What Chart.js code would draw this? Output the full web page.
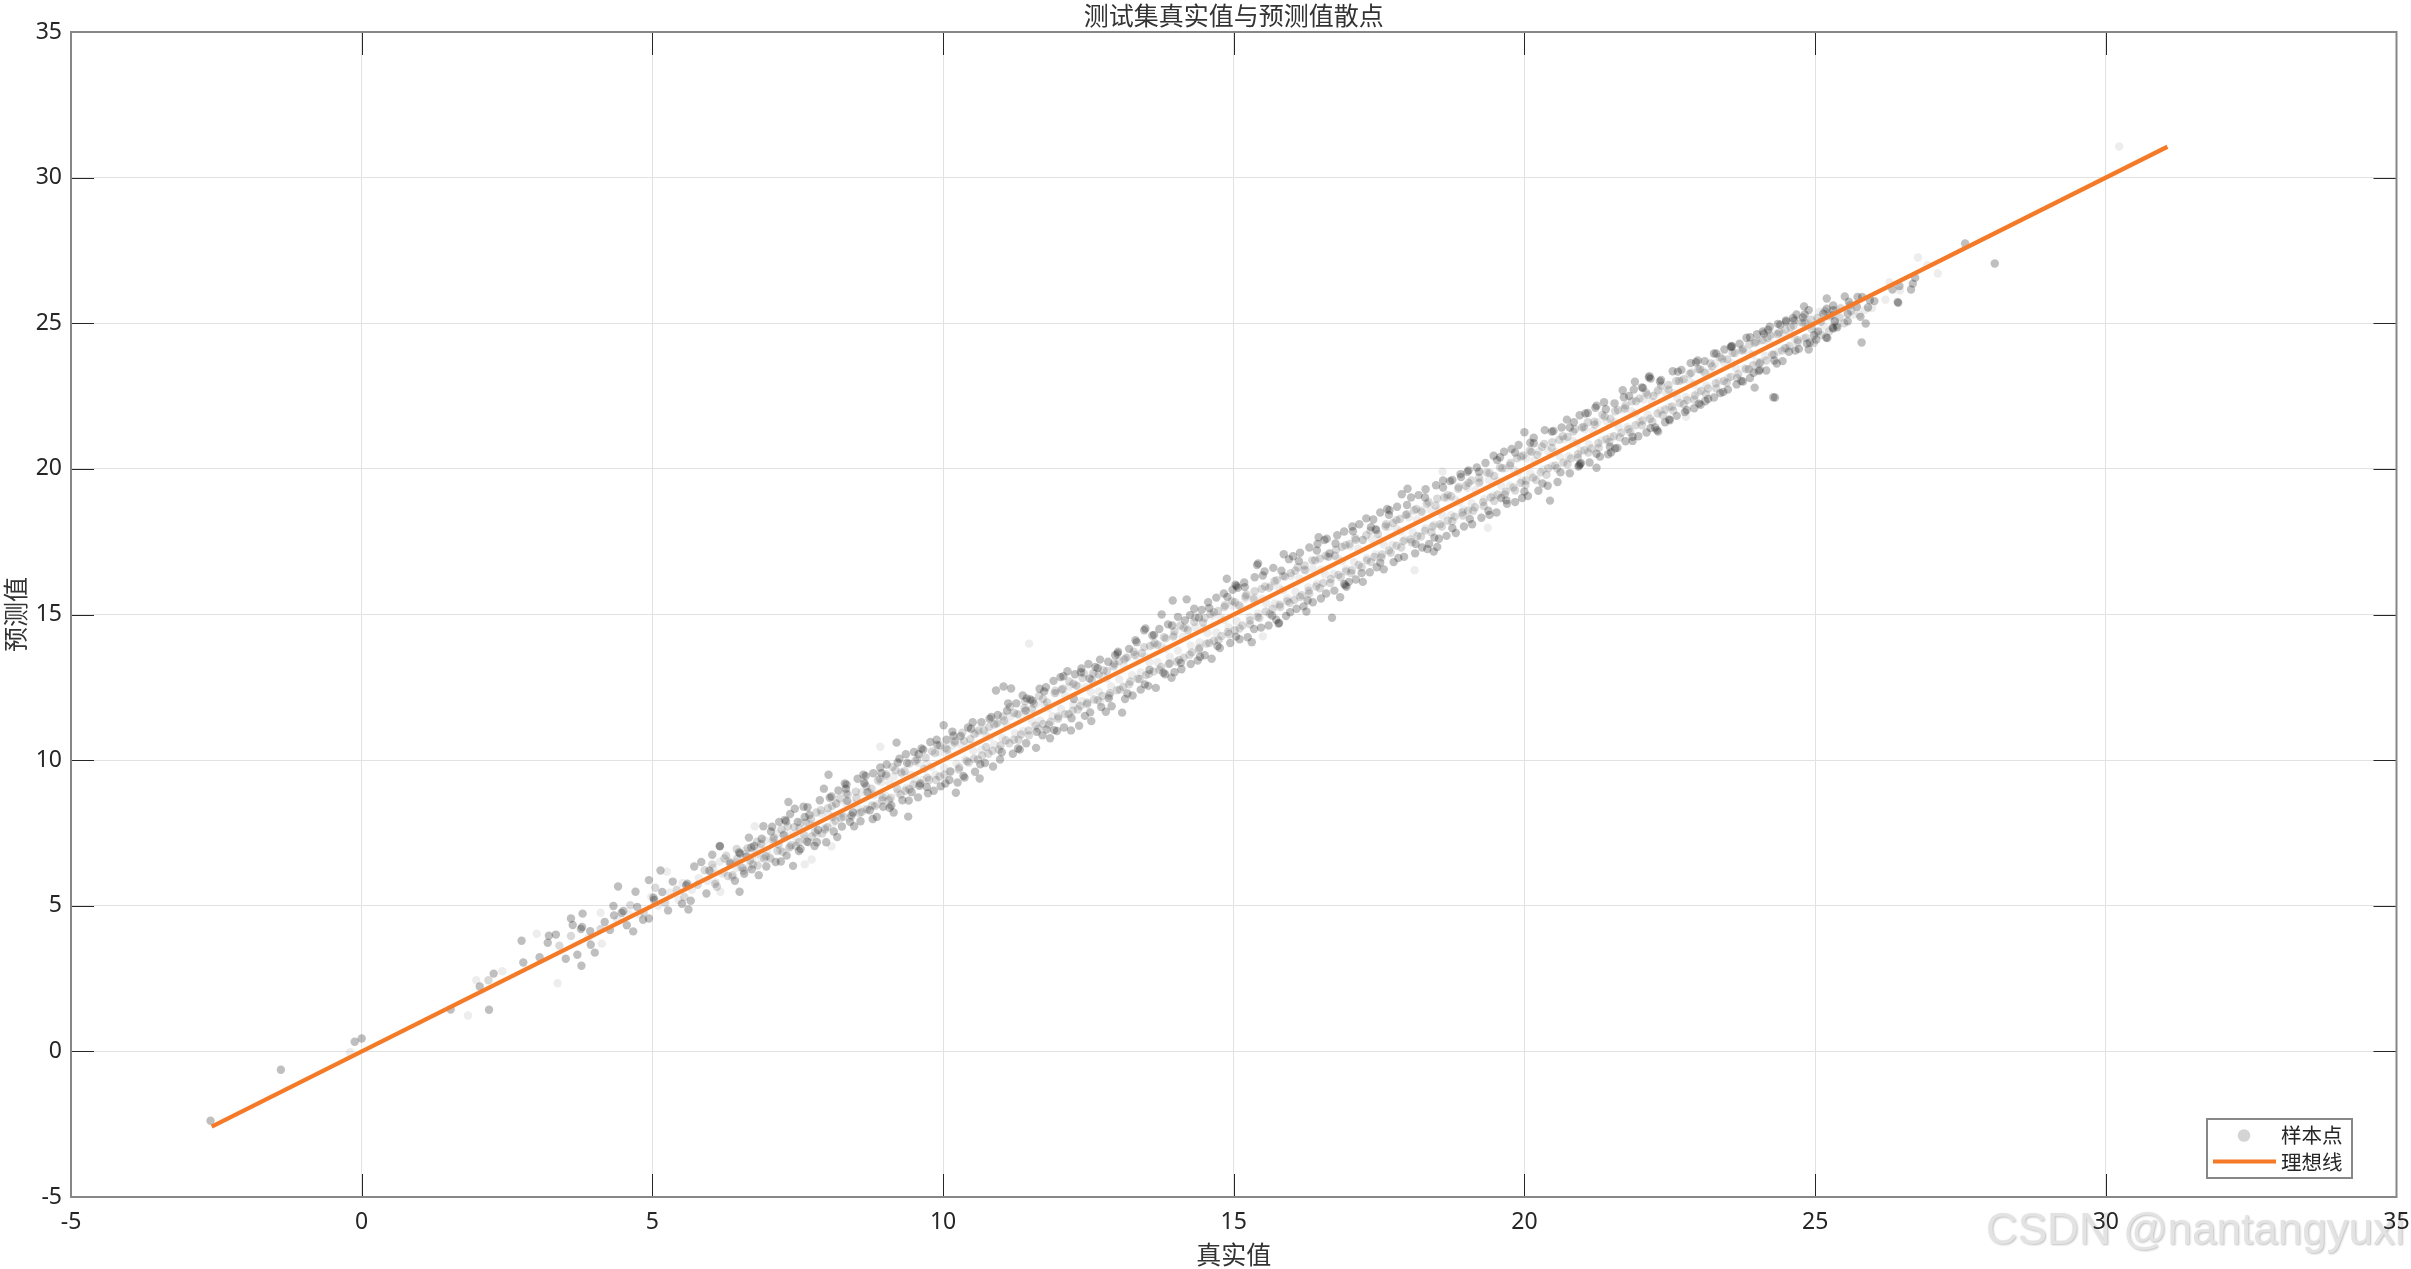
<!DOCTYPE html>
<html>
<head>
<meta charset="utf-8">
<script src="https://cdn.jsdelivr.net/npm/chart.js"></script>
<style>
  html, body { margin: 0; background: #fff; }
  canvas { display: block; }
</style>
</head>
<body>
<canvas id="myChart" width="2411" height="1269"></canvas>
<script>
const tickValues = [-5, 0, 5, 10, 15, 20, 25, 30, 35];
const idealLine = [[-2.58, -2.58], [31.06, 31.06]];

// points, grouped by how dark they look (x,y,x,y,...)
const strongPoints = [
-2.6,-2.38,-1.39,-0.63,-0.12,0.33,0,0.44,1.53,1.44,2.19,1.43,2.27,2.67,2.03,2.23,2.75,3.8,2.78,3.05,3.22,3.97,3.34,4.01,3.2,3.73,3.06,3.23,
3.51,3.18,3.71,3.32,3.78,2.94,4.01,3.39,3.94,3.66,3.6,4.56,3.8,4.73,3.63,4.34,3.79,4.27,3.77,4.2,3.93,4.13,4.18,4.44,4.27,4.17,4.33,4.99,4.41,5.66,4.34,4.67,4.5,4.82,4.47,4.75,
4.74,4.96,4.56,4.33,4.67,4.12,4.84,4.52,4.94,4.56,4.71,5.48,4.94,5.88,5.14,6.21,5.62,4.87,5.66,5.17,5.51,5.07,5.27,4.84,5.02,5.28,5.03,5.2,5.6,5.76,5.58,5.7,5.35,5.83,5.17,5.47,
5.72,6.35,5.84,6.5,5.93,5.42,5.98,6.2,6.03,6.75,6.16,7.05,6.16,7.04,6.5,5.48,6.66,7.34,6.51,6.79,6.49,6.83,6.34,6.45,6.42,5.86,6.58,6.1,6.71,6.25,6.83,6.05,6.91,7.73,6.88,7.3,6.96,6.35,6.62,6.68,6.75,7.05,6.7,7.0,
7.04,7.55,7.12,6.5,7.18,7.88,7.26,7.42,7.31,6.72,7.34,8.56,7.42,6.37,7.45,8.33,7.5,7.88,7.55,6.95,7.6,8.4,7.66,7.2,7.7,8.12,7.79,7.05,7.85,7.6,7.88,8.62,7.95,9.02,7.99,7.18,7.28,7.95,7.3,7.9,7.62,8.05,
8.03,9.5,8.08,8.75,8.12,7.55,8.2,8.96,8.26,7.72,8.31,9.2,8.34,9.16,8.4,7.88,8.45,8.2,8.53,9.36,8.58,7.9,8.63,9.5,8.67,9.46,8.74,8.28,8.8,9.55,8.86,8.05,8.92,9.75,8.97,8.4,8.35,8.6,8.7,8.9,
9.03,9.85,9.08,8.36,9.15,8.2,9.2,10.6,9.22,9.92,9.3,8.62,9.36,10.2,9.4,8.06,9.46,8.9,9.5,10.28,9.57,8.72,9.63,10.4,9.66,10.36,9.72,9.08,9.78,10.62,9.84,8.95,9.9,10.52,9.96,9.1,9.61,9.2,9.38,9.9,
10.01,11.2,10.06,10.7,10.11,9.32,10.16,10.98,10.22,8.88,10.25,9.23,10.3,10.82,10.37,9.4,10.43,11.12,10.48,11.08,10.55,9.6,10.63,9.37,10.66,11.3,10.72,9.9,10.8,11.42,10.86,9.78,10.91,12.39,10.94,11.55,10.98,10.02,
11.04,12.53,11.1,11.7,11.17,12.46,11.2,10.22,11.26,11.95,11.32,10.36,11.37,12.22,11.43,10.58,11.5,12.08,11.54,12.04,11.6,10.42,11.66,12.45,11.71,10.85,11.77,12.5,11.84,10.75,11.9,12.72,11.96,11.0,11.42,11.7,11.78,11.05,
12.02,12.85,12.08,11.12,12.14,13.05,12.2,11.02,12.27,12.95,12.34,11.18,12.38,13.15,12.44,11.52,12.5,13.3,12.55,11.34,12.62,13.2,12.66,13.16,12.72,11.82,12.8,11.66,12.84,13.38,12.9,11.85,12.96,13.6,12.52,12.8,12.25,12.1,
13.01,13.72,13.08,11.63,13.13,12.1,13.2,13.82,13.26,12.22,13.33,14.05,13.4,12.42,13.48,14.52,13.46,14.46,13.53,12.55,13.6,14.28,13.66,12.48,13.72,14.5,13.76,15.0,13.82,12.95,13.87,14.66,13.93,12.83,13.95,15.48,13.98,13.02,13.55,13.1,
14.04,14.92,14.1,13.12,14.16,14.8,14.19,15.52,14.26,13.3,14.32,15.2,14.38,13.42,14.45,15.16,14.5,13.6,14.56,15.42,14.62,13.48,14.7,15.58,14.76,13.85,14.83,15.72,14.88,16.23,14.94,14.02,14.98,15.85,14.4,14.9,
15.03,16.02,15.07,15.92,15.05,15.98,15.1,14.15,15.18,16.1,15.24,14.22,15.31,14.05,15.36,16.28,15.42,16.75,15.4,16.7,15.47,14.55,15.53,16.48,15.6,14.62,15.68,16.6,15.73,14.82,15.77,14.69,15.78,14.71,15.86,17.07,15.9,14.95,15.95,16.9,
16.02,17.0,16.08,15.2,16.14,17.12,16.2,15.28,16.25,15.1,16.3,17.3,16.36,15.42,16.46,17.65,16.44,17.42,16.5,15.55,16.56,17.56,16.6,17.6,16.69,14.89,16.73,15.82,16.78,17.72,16.83,15.59,16.9,17.85,16.94,15.95,16.92,16.0,16.98,16.12,16.65,17.1,
17.04,18.02,17.1,16.2,17.16,18.1,17.22,16.12,17.28,18.3,17.34,16.45,17.4,18.26,17.46,16.62,17.52,18.5,17.58,16.55,17.64,18.62,17.68,18.58,17.75,16.8,17.81,18.7,17.89,19.13,17.93,16.98,17.99,19.32,17.45,17.9,
18.05,19.02,18.12,17.1,18.18,19.1,18.24,17.3,18.3,19.3,18.36,17.42,18.44,17.16,18.48,19.44,18.53,17.6,18.6,19.6,18.66,17.7,18.72,19.58,18.76,19.62,18.82,17.8,18.9,19.82,18.96,18.02,18.5,17.32,18.33,17.25,
19.04,19.95,19.02,19.9,19.1,18.1,19.18,20.05,19.26,18.32,19.33,20.2,19.4,18.42,19.47,20.45,19.52,18.5,19.58,20.4,19.65,20.59,19.7,18.8,19.78,20.68,19.84,18.86,19.9,20.82,19.96,19.0,19.6,19.0,
20,21.26,20.06,19.07,20.1,20.9,20.16,21.07,20.24,19.25,20.35,21.33,20.4,19.42,20.44,18.91,20.5,21.3,20.57,19.55,20.64,21.42,20.73,21.69,20.78,19.85,20.85,21.6,20.96,20.16,20.94,20.12,20.95,21.84,20.97,20.2,
21.05,21.9,21.12,20.22,21.24,20.04,21.24,22.17,21.22,22.1,21.3,20.42,21.37,22.29,21.44,20.5,21.49,20.56,21.47,20.76,21.55,22.25,21.6,20.72,21.69,22.7,21.74,20.95,21.8,22.5,21.86,20.96,21.9,22.99,21.88,22.72,21.96,21.12,
22.04,22.78,22.1,21.25,22.15,23.18,22.14,23.14,22.17,23.1,22.25,21.42,22.3,21.28,22.28,21.33,22.35,23.05,22.42,21.6,22.5,21.67,22.55,23.35,22.62,21.82,22.7,23.4,22.76,21.95,22.86,23.63,22.92,22.08,22.98,23.72,
23.0,22.24,23.03,22.2,23.1,23.7,23.16,22.4,23.26,22.45,23.3,23.96,23.37,22.6,23.44,24.1,23.5,22.72,23.56,24.22,23.65,22.9,23.7,24.3,23.76,23.0,23.82,24.5,23.88,23.12,23.96,22.79,23.94,23.3,24.0,24.62,23.55,24.18,
24.05,23.4,24.1,24.72,24.12,24.65,24.16,23.38,24.22,24.88,24.28,22.46,24.31,22.45,24.3,23.72,24.36,24.98,24.4,24.95,24.44,23.7,24.5,25.1,24.55,24.02,24.62,25.18,24.64,25.1,24.68,25.3,24.72,24.12,24.79,25.2,24.81,25.58,24.86,24.3,24.89,25.45,24.91,24.34,24.89,24.1,24.98,24.59,
25.05,24.72,25.14,25.33,25.2,25.85,25.21,24.49,25.19,24.51,25.31,25.61,25.31,25.45,25.31,24.82,25.3,24.85,25.34,25.07,25.51,25.92,25.56,25.33,25.56,25.07,25.72,25.56,25.73,25.9,25.8,24.34,25.81,25.9,25.87,24.99,25.91,25.54,25.94,25.79,26.02,25.76,
26.33,26.16,26.42,25.73,26.43,25.7,26.45,26.28,26.65,26.16,26.68,26.36,26.72,26.56,27.58,27.74,28.09,27.05
];

// inner part of the band, dark dots
const strongInner = [
6.03,6.42,6.11,5.65,6.27,6.72,6.38,6.05,6.46,6.62,6.57,6.2,6.64,6.98,6.73,6.42,6.81,6.38,6.87,7.12,6.95,6.7,
7.03,6.62,7.09,7.34,7.17,7.1,7.24,6.85,7.33,7.72,7.39,7.08,7.47,7.05,7.53,7.66,7.61,7.42,7.69,7.18,7.73,7.98,7.8,7.52,7.9,8.28,7.97,7.62,
8.01,7.7,8.09,8.42,8.15,7.92,8.22,8.68,8.29,8.05,8.36,8.82,8.43,8.08,8.51,8.7,8.56,8.18,8.64,9.22,8.69,8.3,8.77,9.02,8.83,8.42,8.91,9.36,8.96,8.72,
9.02,9.52,9.07,8.62,9.13,9.76,9.21,9.02,9.28,9.58,9.35,8.95,9.42,9.88,9.49,9.16,9.55,10.02,9.59,9.12,9.67,9.7,9.73,9.4,9.81,10.3,9.88,9.32,9.95,10.5,
10.02,9.5,10.07,10.36,10.13,9.6,10.2,10.66,10.27,9.68,10.33,10.94,10.41,9.96,10.47,10.72,10.53,10.05,10.61,11.02,10.67,10.16,10.74,10.45,10.79,11.14,10.85,10.32,10.92,11.26,10.99,10.5,
11.03,11.5,11.08,10.68,11.15,11.82,11.22,10.7,11.28,11.58,11.34,10.88,11.41,12.02,11.47,11.02,11.53,11.76,11.59,11.18,11.65,12.2,11.72,11.24,11.79,11.98,11.85,11.32,11.93,12.38,11.98,11.5,
12.04,12.42,12.1,11.58,12.17,12.7,12.23,11.7,12.29,12.56,12.36,11.86,12.42,12.98,12.48,11.98,12.56,12.74,12.6,12.08,12.68,12.94,12.74,12.2,12.82,13.06,12.87,12.3,12.93,13.22,12.99,12.4,
13.03,13.4,13.1,12.52,13.15,13.52,13.22,12.7,13.28,13.72,13.35,12.8,13.42,13.68,13.49,12.92,13.56,13.92,13.62,13.04,13.69,13.96,13.75,13.2,13.83,14.18,13.88,13.3,13.96,14.24,
14.02,13.38,14.08,14.62,14.14,13.52,14.21,14.46,14.28,13.7,14.34,14.9,14.41,13.86,14.47,14.72,14.53,14.0,14.6,15.02,14.66,14.1,14.73,15.12,14.79,14.26,14.85,15.32,14.9,14.4,14.97,15.46,
15.02,14.46,15.09,15.32,15.15,14.62,15.22,15.68,15.28,14.8,15.34,15.52,15.41,14.92,15.48,15.88,15.55,15.1,15.61,15.92,15.67,15.2,15.74,16.18,15.79,15.34,15.85,16.32,15.92,15.46,15.98,16.42,
16.04,15.5,16.1,16.62,16.17,15.66,16.23,16.52,16.29,15.82,16.35,16.86,16.42,15.96,16.48,16.92,16.54,16.08,16.62,16.98,16.67,16.22,16.74,17.02,16.8,16.36,16.86,17.32,16.93,16.48,16.99,17.42,
17.03,16.52,17.09,17.62,17.15,16.7,17.22,17.56,17.29,16.86,17.35,17.88,17.42,16.98,17.48,17.76,17.55,17.06,17.61,18.02,17.67,17.2,17.74,18.14,17.8,17.36,17.86,18.28,17.92,17.52,17.98,18.44,
18.04,17.58,18.1,18.58,18.16,17.7,18.23,18.52,18.29,17.88,18.35,18.86,18.42,18.02,18.47,18.74,18.55,18.1,18.62,19.02,18.68,18.22,18.74,19.06,18.8,18.36,18.87,19.38,18.93,18.5,18.99,19.42,
19.03,18.56,19.09,19.6,19.15,18.68,19.22,19.52,19.29,18.86,19.35,19.88,19.42,19.02,19.48,19.76,19.54,19.12,19.62,20.02,19.68,19.22,19.75,20.12,19.81,19.36,19.87,20.36,19.93,19.52,19.98,20.46,
20.03,19.6,20.09,20.62,20.15,19.7,20.22,20.48,20.28,19.88,20.34,20.86,20.41,20.02,20.47,20.72,20.53,20.12,20.6,21.0,20.67,20.22,20.74,21.1,20.8,20.36,20.87,21.36,20.92,20.5,20.99,21.42,
21.03,20.64,21.09,21.6,21.15,20.7,21.21,21.52,21.27,20.88,21.34,21.86,21.41,21.02,21.48,21.72,21.54,21.12,21.61,22.02,21.67,21.24,21.73,22.08,21.79,21.36,21.85,22.32,21.91,21.5,21.98,22.42,
22.03,21.66,22.09,22.62,22.16,21.72,22.22,22.5,22.29,21.9,22.35,22.86,22.42,22.04,22.48,22.72,22.54,22.14,22.61,23.02,22.67,22.26,22.74,23.08,22.8,22.36,22.87,23.3,22.93,22.52,22.99,23.42,
23.04,22.68,23.1,23.3,23.16,22.76,23.23,23.52,23.29,22.94,23.36,23.84,23.43,23.02,23.49,23.76,23.55,23.16,23.62,23.98,23.68,23.26,23.75,24.06,23.81,23.42,23.87,24.28,23.93,23.56,23.99,24.36,
24.04,23.62,24.1,24.42,24.16,23.72,24.23,24.58,24.29,23.92,24.36,24.62,24.43,24.06,24.49,24.78,24.56,24.22,24.63,24.92,24.7,24.34,24.78,25.02,24.84,24.5,24.93,25.12,24.98,24.32,
25.04,25.18,25.11,24.6,25.17,25.42,25.24,24.72,25.29,25.28,25.37,24.92,25.44,25.52,25.5,25.0,25.62,25.42
];

// dark dots at the rough edges of the band
const strongEdge = [
7.06,7.71,7.21,6.52,7.37,8.15,7.52,6.88,7.67,8.38,7.83,7.18,8.05,8.71,8.18,7.36,8.33,9.02,8.47,7.73,8.65,9.2,8.79,7.98,
8.94,9.55,9.11,8.44,9.25,10.05,9.41,8.61,9.58,10.2,9.74,8.86,9.89,10.7,10.04,9.2,10.18,10.84,10.35,9.46,10.51,11.3,10.64,9.86,10.83,11.48,11.01,10.27,
11.12,11.95,11.29,10.4,11.44,12.12,11.61,10.97,11.74,12.36,11.91,11.03,12.07,12.88,12.21,11.44,12.37,13.02,12.53,11.64,12.7,13.45,12.85,12.12,13.0,13.66,13.17,12.29,
13.31,14.12,13.47,12.6,13.63,14.3,13.79,13.0,13.94,14.62,14.09,13.34,14.25,14.98,14.42,13.55,14.58,15.22,14.72,13.92,14.89,15.6,15.04,14.24,15.19,15.94,15.35,14.5,
15.5,16.34,15.66,14.96,15.82,16.5,15.97,15.08,16.12,16.84,16.27,15.48,16.43,17.2,16.59,15.72,16.75,17.44,16.9,16.05,17.05,17.86,17.2,16.42,17.36,18.0,17.52,16.78,
17.67,18.42,17.83,16.94,17.98,18.76,18.13,17.42,18.29,19.02,18.45,17.64,18.6,19.36,18.76,17.96,18.91,19.72,19.06,18.28,19.22,19.9,19.38,18.56,19.53,20.3,19.69,18.92,
19.84,20.56,20.0,19.22,20.16,20.88,20.31,19.5,20.47,21.28,20.62,19.88,20.78,21.42,20.93,20.08,21.09,21.92,21.24,20.52,21.4,22.05,21.56,20.7,21.71,22.46,21.86,21.1,
22.02,22.8,22.17,21.4,22.33,23.0,22.49,21.7,22.64,23.34,22.79,22.02,22.95,23.66,23.11,22.32,23.26,23.96,23.42,22.64,23.57,24.2,23.73,23.02,23.88,24.52,24.03,23.36,
24.19,24.78,24.34,23.62,24.5,25.05,24.66,24.06,24.82,25.3,25.02,24.44,25.2,25.5,25.38,24.86,25.58,25.74,25.78,25.22
];

const softPoints = [
2.18,2.44,3.6,3.96,3.4,3.63,4.11,4.2,4.62,5.02,4.85,4.78,5.05,5.62,5.22,5.1,5.42,5.55,5.55,5.3,5.78,5.72,5.9,6.22,6.08,5.75,6.24,6.62,6.3,6.02,6.45,6.95,6.55,6.3,6.68,6.55,6.8,7.2,6.92,6.62,
7.08,7.28,7.15,6.88,7.22,7.62,7.36,7.02,7.44,7.7,7.52,7.18,7.64,7.86,7.74,7.38,7.82,8.2,7.92,7.48,8.02,8.35,8.1,8.05,8.16,8.5,8.24,8.02,8.33,8.86,8.42,8.12,8.5,8.92,8.6,8.22,8.68,9.1,8.78,8.44,8.88,9.3,8.95,8.62,
9.02,9.46,9.1,8.7,9.18,9.65,9.27,8.82,9.34,9.62,9.42,9.0,9.52,9.96,9.6,9.12,9.7,10.08,9.76,9.32,9.86,10.24,9.94,9.44,10.04,10.42,10.12,9.62,10.2,10.6,10.28,9.75,10.36,10.66,10.44,9.92,10.54,10.9,10.6,10.02,10.7,11.02,10.78,10.22,10.88,11.22,10.96,10.36,
11.05,11.35,11.14,10.58,11.22,11.62,11.3,10.7,11.4,11.78,11.48,10.85,11.56,11.94,11.64,11.08,11.72,12.1,11.82,11.22,11.92,12.3,11.98,11.42,12.06,12.45,12.16,11.58,12.24,12.62,12.32,11.74,12.4,12.82,12.48,11.92,12.58,12.98,12.66,12.06,12.76,13.08,12.86,12.22,12.94,13.32,
13.04,12.42,13.12,13.46,13.2,12.6,13.3,13.62,13.38,12.78,13.46,13.88,13.54,12.96,13.64,14.02,13.72,13.1,13.8,14.22,13.9,13.32,13.98,14.42,14.06,13.44,14.14,14.54,14.24,13.62,14.32,14.74,14.4,13.8,14.5,14.88,14.58,14.02,14.66,15.08,14.74,14.12,14.84,15.26,14.92,14.32,
15.02,15.42,15.1,14.52,15.2,15.62,15.28,14.66,15.36,15.8,15.44,14.88,15.54,15.96,15.62,15.02,15.7,16.14,15.8,15.26,15.88,16.3,15.96,15.4,16.06,16.5,16.14,15.6,16.22,16.68,16.3,15.72,16.4,16.86,16.48,15.9,16.58,17.02,16.66,16.08,16.76,17.22,16.84,16.28,16.92,17.38,
17.02,16.42,17.1,17.56,17.2,16.62,17.28,17.72,17.36,16.8,17.44,17.94,17.54,16.96,17.62,18.1,17.7,17.12,17.8,18.24,17.88,17.3,17.96,18.42,18.06,17.48,18.14,18.62,18.22,17.68,18.32,18.8,18.4,17.82,18.5,18.98,18.58,18.02,18.68,19.1,18.76,18.2,18.86,19.32,18.94,18.4,
19.04,19.52,19.12,18.56,19.22,19.7,19.3,18.72,19.4,19.86,19.48,18.9,19.58,20.05,19.66,19.12,19.76,20.2,19.84,19.26,19.94,20.42,20.02,19.45,20.12,20.58,20.2,19.62,20.3,20.76,20.38,19.8,20.48,20.92,20.56,20.02,20.66,21.12,20.74,20.16,20.84,21.28,20.92,20.38,
21.02,21.44,21.1,20.56,21.2,21.62,21.28,20.72,21.38,21.8,21.46,20.92,21.56,21.98,21.64,21.08,21.74,22.18,21.82,21.26,21.92,22.32,22.02,21.5,22.12,22.54,22.2,21.62,22.3,22.7,22.38,21.84,22.48,22.88,22.56,22.0,22.66,23.02,22.74,22.22,22.84,23.26,22.92,22.38,
23.02,23.42,23.12,22.56,23.2,23.62,23.3,22.76,23.4,23.78,23.48,22.96,23.58,23.98,23.66,23.12,23.76,24.12,23.86,23.42,23.96,24.32,24.06,23.66,24.18,24.5,24.26,23.92,24.38,24.68,24.48,24.14,24.58,24.86,24.7,24.42,24.82,25.02,24.94,24.8,25.1,25.05,25.26,25.24,25.42,25.2,25.6,25.62
];

// light grey dots close to the line
const softCentre = [
6.02,6.14,6.09,5.81,6.16,6.51,6.23,6.15,6.31,6.53,6.37,5.99,6.44,6.49,6.52,6.34,6.58,6.88,6.66,6.33,6.72,6.88,6.8,6.78,6.87,6.65,6.94,7.24,
7.01,6.68,7.07,7.19,7.14,7.47,7.2,6.91,7.27,7.49,7.35,6.97,7.41,7.46,7.48,7.3,7.55,7.85,7.62,7.29,7.69,7.85,7.76,7.74,7.83,7.45,7.91,8.16,7.97,7.68,
8.03,8.15,8.1,7.82,8.17,8.52,8.25,8.17,8.32,8.54,8.39,8.01,8.45,8.5,8.53,8.35,8.6,8.9,8.66,8.33,8.73,8.89,8.81,8.79,8.87,8.49,8.94,9.24,
9.01,8.78,9.08,9.2,9.15,9.44,9.22,8.88,9.3,9.52,9.37,9.05,9.45,9.5,9.51,9.36,9.58,9.9,9.65,9.32,9.72,9.86,9.8,9.77,9.87,9.5,9.94,10.26,
10.02,9.74,10.09,10.2,10.16,10.5,10.23,9.88,10.31,10.52,10.38,10.02,10.45,10.52,10.52,10.32,10.59,10.94,10.66,10.36,10.73,10.88,10.8,10.78,10.88,10.54,10.95,11.28,
11.02,10.76,11.09,11.24,11.16,11.5,11.24,10.92,11.31,11.56,11.38,11.0,11.45,11.52,11.53,11.34,11.6,11.92,11.67,11.36,11.74,11.9,11.81,11.78,11.88,11.52,11.95,12.3,
12.03,11.76,12.1,12.22,12.17,12.52,12.24,11.9,12.32,12.54,12.39,12.02,12.46,12.5,12.54,12.34,12.61,12.94,12.68,12.36,12.75,12.88,12.82,12.8,12.89,12.54,12.96,13.28,
13.03,12.78,13.11,13.24,13.18,13.52,13.25,12.92,13.33,13.56,13.4,13.02,13.47,13.54,13.55,13.36,13.62,13.96,13.69,13.36,13.76,13.9,13.83,13.82,13.9,13.54,13.97,14.3,
14.04,13.76,14.12,14.24,14.19,14.54,14.26,13.94,14.34,14.56,14.41,14.04,14.48,14.52,14.55,14.36,14.63,14.96,14.7,14.38,14.77,14.9,14.84,14.82,14.91,14.56,14.98,15.3,
15.05,14.78,15.12,15.26,15.2,15.54,15.27,14.92,15.35,15.58,15.42,15.04,15.49,15.54,15.56,15.38,15.64,15.98,15.71,15.38,15.78,15.92,15.85,15.84,15.92,15.56,15.99,16.32,
16.06,15.78,16.13,16.24,16.21,16.54,16.28,15.94,16.36,16.58,16.43,16.06,16.5,16.54,16.57,16.38,16.65,16.98,16.72,16.4,16.79,16.92,16.86,16.84,16.93,16.56,17.0,17.34,
17.07,16.8,17.14,17.26,17.22,17.56,17.29,16.94,17.37,17.6,17.44,17.06,17.51,17.56,17.58,17.4,17.66,18.0,17.73,17.4,17.8,17.94,17.87,17.86,17.94,17.58,18.01,18.34,
18.08,17.82,18.15,18.26,18.23,18.58,18.3,17.96,18.38,18.6,18.45,18.08,18.52,18.56,18.59,18.4,18.67,19.0,18.74,18.42,18.81,18.94,18.88,18.86,18.95,18.6,19.02,19.34,
19.09,18.82,19.16,19.28,19.24,19.58,19.31,18.96,19.39,19.62,19.46,19.08,19.53,19.58,19.6,19.42,19.68,20.02,19.75,19.42,19.82,19.96,19.89,19.88,19.96,19.6,20.03,20.36,
20.1,19.84,20.17,20.28,20.25,20.6,20.32,19.98,20.4,20.62,20.47,20.1,20.54,20.58,20.61,20.42,20.69,21.02,20.76,20.44,20.83,20.96,20.9,20.88,20.97,20.62,21.04,21.36,
21.11,20.84,21.18,21.3,21.26,21.6,21.33,20.98,21.41,21.64,21.48,21.1,21.55,21.6,21.62,21.44,21.7,22.04,21.77,21.44,21.84,21.98,21.91,21.9,21.98,21.62,22.05,22.38,
22.12,21.86,22.19,22.3,22.27,22.62,22.34,22.0,22.42,22.64,22.49,22.12,22.56,22.6,22.63,22.44,22.71,23.04,22.78,22.46,22.85,22.98,22.92,22.9,22.99,22.64,23.06,23.38,
23.13,22.86,23.2,23.32,23.28,23.62,23.35,23.0,23.43,23.66,23.5,23.12,23.57,23.62,23.64,23.46,23.72,24.06,23.79,23.46,23.86,24.0,23.93,23.92,24.0,23.66,24.07,24.4,
24.14,23.88,24.21,24.32,24.29,24.64,24.36,24.02,24.44,24.66,24.51,24.14,24.58,24.62,24.65,24.46,24.73,25.06,24.8,24.48,24.87,25.0,24.94,24.92,25.01,24.68,25.08,25.4,25.15,24.9,25.22,25.34,25.33,25.04
];

const faintPoints = [
-0.2,-0.03,1.83,1.23,1.97,2.44,2.42,2.75,3.01,4.04,3.37,2.34,3.9,3.9,4.13,3.7,4.11,4.76,4.4,4.5,4.6,4.72,4.78,4.7,4.98,5.3,5.1,5.0,5.25,6.17,5.3,5.45,5.45,5.2,5.52,5.78,5.68,5.55,5.8,5.95,5.95,5.85,6.05,6.3,6.17,5.48,6.2,6.1,6.35,6.5,6.45,6.3,6.6,6.78,6.76,7.73,6.72,6.6,6.86,6.98,6.97,6.88,
7.74,6.59,7.62,6.42,8.08,7.04,8.92,10.46,11.48,14.0,12.7,12.0,15.5,14.25,18.11,16.52,18.59,19.91,19.37,17.98,22.78,21.79,
25.36,25.46,25.66,25.3,25.76,25.3,25.86,25.46,25.98,25.52,26.21,25.81,26.28,26.41,26.46,26.13,26.77,27.26,26.93,26.99,27.11,26.71,30.23,31.07
];

const strongColor = 'rgba(20,20,20,0.27)';
const softColor = 'rgba(20,20,20,0.16)';
const centreColor = 'rgba(20,20,20,0.08)';
const faintColor = 'rgba(20,20,20,0.08)';
const lineColor = '#f47a27';
const textColor = '#262626';
const axisFont = "'Noto Sans','Noto Sans CJK SC',sans-serif";

const toXY = flat => {
  const out = [];
  for (let i = 0; i < flat.length; i += 2) {
    out.push({ x: flat[i], y: flat[i + 1] });
  }
  return out;
};

const pointSet = (label, pts, color, order) => ({
  label: label,
  data: toXY(pts),
  backgroundColor: color,
  borderWidth: 0,
  pointRadius: 4.2,
  order: order
});

// frame + inward ticks (MATLAB box on), legend box, watermark
const decorPlugin = {
  id: 'decor',
  beforeDraw(chart) {
    const ctx = chart.ctx;
    ctx.save();
    ctx.font = '44px "Liberation Sans"';
    ctx.textBaseline = 'alphabetic';
    ctx.textAlign = 'left';
    ctx.fillStyle = '#e3e3e3';
    ctx.shadowColor = 'rgba(0,0,0,0.25)';
    ctx.shadowBlur = 2;
    ctx.shadowOffsetX = 1;
    ctx.shadowOffsetY = 1;
    ctx.fillText('CSDN @nantangyuxi', 1986, 1244);
    ctx.restore();
  },
  afterDatasetsDraw(chart) {
    const ctx = chart.ctx;
    const a = chart.chartArea;
    const xs = chart.scales.x;
    const ys = chart.scales.y;
    ctx.save();
    ctx.strokeStyle = textColor;
    ctx.lineWidth = 1;
    ctx.beginPath();
    tickValues.slice(1, -1).forEach(v => {
      const px = Math.round(xs.getPixelForValue(v)) + 0.5;
      const py = Math.round(ys.getPixelForValue(v)) + 0.5;
      ctx.moveTo(px, a.top); ctx.lineTo(px, a.top + 23);
      ctx.moveTo(px, a.bottom); ctx.lineTo(px, a.bottom - 23);
      ctx.moveTo(a.left, py); ctx.lineTo(a.left + 23, py);
      ctx.moveTo(a.right, py); ctx.lineTo(a.right - 23, py);
    });
    ctx.stroke();
    ctx.strokeStyle = '#878787';
    ctx.lineWidth = 2;
    ctx.strokeRect(a.left, a.top, a.right - a.left, a.bottom - a.top);

    // legend
    ctx.fillStyle = '#fff';
    ctx.fillRect(2207, 1119, 145, 59);
    ctx.strokeRect(2207, 1119, 145, 59);
    ctx.fillStyle = '#d4d4d4';
    ctx.beginPath();
    ctx.arc(2244, 1135.5, 6.3, 0, Math.PI * 2);
    ctx.fill();
    ctx.strokeStyle = lineColor;
    ctx.lineWidth = 4;
    ctx.beginPath();
    ctx.moveTo(2213, 1161.5);
    ctx.lineTo(2276, 1161.5);
    ctx.stroke();
    ctx.fillStyle = textColor;
    ctx.font = "20.5px 'Noto Sans CJK SC'";
    ctx.textAlign = 'left';
    ctx.textBaseline = 'middle';
    ctx.fillText('样本点', 2281, 1135);
    ctx.fillText('理想线', 2281, 1162);
    ctx.restore();
  }
};

new Chart(document.getElementById('myChart').getContext('2d'), {
  type: 'scatter',
  data: {
    datasets: [
      {
        label: '理想线',
        data: idealLine.map(p => ({ x: p[0], y: p[1] })),
        showLine: true,
        borderColor: lineColor,
        borderWidth: 4.2,
        pointRadius: 0,
        order: 0
      },
      pointSet('样本点', faintPoints, faintColor, 1),
      pointSet('样本点', softCentre, centreColor, 2),
      pointSet('样本点', softPoints, softColor, 3),
      pointSet('样本点', strongEdge, strongColor, 4),
      pointSet('样本点', strongInner, softColor, 5),
      pointSet('样本点', strongPoints, strongColor, 6)
    ]
  },
  options: {
    responsive: false,
    animation: false,
    devicePixelRatio: 1,
    layout: { padding: { left: 0, right: 0, top: 0, bottom: 0 } },
    plugins: {
      legend: { display: false },
      tooltip: { enabled: false },
      title: {
        display: true,
        text: '测试集真实值与预测值散点',
        fullSize: false,
        color: '#333',
        font: { family: "'Noto Sans CJK SC'", size: 25, weight: 'normal', lineHeight: 1.2 },
        padding: { top: 0, bottom: 2 }
      }
    },
    scales: {
      x: {
        type: 'linear',
        min: -5,
        max: 35,
        afterFit(scale) {
          scale.height = 72;
          scale.paddingLeft = 0;
          scale.paddingRight = 14.5;
        },
        afterBuildTicks(scale) { scale.ticks = tickValues.map(v => ({ value: v })); },
        border: { display: false },
        grid: { color: '#e2e2e2', lineWidth: 1, drawTicks: false },
        ticks: { color: textColor, padding: 12, maxRotation: 0, font: { family: axisFont, size: 23 } },
        title: {
          display: true,
          text: '真实值',
          color: '#333',
          padding: { top: 0, bottom: 0 },
          font: { family: "'Noto Sans CJK SC'", size: 25, weight: 'normal' }
        }
      },
      y: {
        type: 'linear',
        min: -5,
        max: 35,
        afterFit(scale) { scale.width = 71; },
        afterBuildTicks(scale) { scale.ticks = tickValues.map(v => ({ value: v })); },
        border: { display: false },
        grid: { color: '#e2e2e2', lineWidth: 1, drawTicks: false },
        ticks: { color: textColor, padding: 9, font: { family: axisFont, size: 23 } },
        title: {
          display: true,
          text: '预测值',
          color: '#333',
          padding: { top: 0, bottom: 0 },
          font: { family: "'Noto Sans CJK SC'", size: 25, weight: 'normal' }
        }
      }
    }
  },
  plugins: [decorPlugin]
});
</script>
</body>
</html>
